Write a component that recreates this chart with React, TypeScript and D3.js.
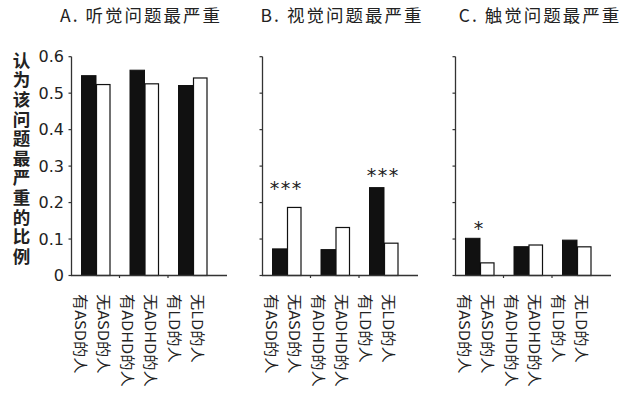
import React from "react";
import * as d3 from "d3";

const panelTitles = ["A. 听觉问题最严重", "B. 视觉问题最严重", "C. 触觉问题最严重"];
const groups = ["ASD", "ADHD", "LD"];
const series = ["有", "无"];
const xLabels = ["有ASD的人", "无ASD的人", "有ADHD的人", "无ADHD的人", "有LD的人", "无LD的人"];
const yTicks = [0, 0.1, 0.2, 0.3, 0.4, 0.5, 0.6];
const yTickLabels = ["0", "0.1", "0.2", "0.3", "0.4", "0.5", "0.6"];
const yTitle = "认为该问题最严重的比例";

// values per panel: [有 (black), 无 (white)] for ASD, ADHD, LD
const hearingHas = [0.548, 0.563, 0.521];
const hearingNot = [0.525, 0.527, 0.543];
const visionHas = [0.073, 0.071, 0.241];
const visionNot = [0.188, 0.133, 0.09];
const touchHas = [0.102, 0.079, 0.097];
const touchNot = [0.036, 0.085, 0.08];

const panelHas = [hearingHas, visionHas, touchHas];
const panelNot = [hearingNot, visionNot, touchNot];

// significance marks: panel, group, label, height (data units)
const sigPanel = [1, 1, 2];
const sigGroup = [0, 2, 0];
const sigText = ["***", "***", "*"];
const sigLevel = [0.248, 0.284, 0.138];

const W = 631;
const H = 393;
const panelLeft = [71, 262, 455];
const titleCenter = [141, 342, 540];
const axisLen = 156;
const groupSpan = 145.5;
const FONT = "'Noto Sans CJK SC', 'DejaVu Sans', sans-serif";

export default function App() {
  const y = d3.scaleLinear().domain([0, 0.6]).range([275.5, 56.7]);
  const gx = d3.scaleBand<string>().domain(groups).range([0, groupSpan]).paddingInner(0);
  const inner = d3
    .scaleBand<string>()
    .domain(series)
    .range([10.5, 39.5])
    .paddingInner(0);
  const lx = d3.scaleBand<string>().domain(xLabels).range([-1.5, 139.5]);

  return (
    <svg
      width={W}
      height={H}
      style={{ position: "absolute", left: 0, top: 0, background: "#fff" }}
      fontFamily={FONT}
    >
      {/* y axis title */}
      <text
        x={21.5}
        y={51.5}
        style={{ writingMode: "vertical-rl" } as any}
        fontSize={17.5}
        letterSpacing={2.1}
        fontWeight="bold"
        fill="#222"
      >
        {yTitle}
      </text>
      {/* y tick labels (panel A only) */}
      {yTicks.map((t, i) => (
        <text
          key={i}
          x={64}
          y={y(t)}
          textAnchor="end"
          dominantBaseline="central"
          fontSize={16}
          fontFamily="'DejaVu Sans', sans-serif"
          fill="#222"
        >
          {yTickLabels[i]}
        </text>
      ))}
      {panelTitles.map((title, p) => {
        const x0 = panelLeft[p];
        const has = panelHas[p];
        const not = panelNot[p];
        return (
          <g key={p}>
            <text
              x={titleCenter[p]}
              y={22}
              textAnchor="middle"
              fontSize={17.5}
              letterSpacing={2}
              fill="#222"
            >
              {title}
            </text>
            <g transform={`translate(${x0},0)`}>
              {/* bars */}
              {groups.map((g, gi) => (
                <g key={g} transform={`translate(${gx(g)},0)`}>
                  <rect
                    x={inner("有")}
                    y={y(has[gi])}
                    width={inner.bandwidth()}
                    height={y(0) - y(has[gi])}
                    fill="#111"
                    stroke="#111"
                    strokeWidth={1}
                  />
                  <rect
                    x={(inner("无") as number) + 0.5}
                    y={y(not[gi]) + 0.5}
                    width={inner.bandwidth() - 1}
                    height={y(0) - y(not[gi]) - 0.5}
                    fill="#fff"
                    stroke="#111"
                    strokeWidth={1.2}
                  />
                </g>
              ))}
              {/* y axis */}
              <line x1={0.5} x2={0.5} y1={y(0.6)} y2={y(0)} stroke="#333" strokeWidth={1.3} />
              {yTicks.map((t, i) => (
                <line key={i} x1={-2.5} x2={0.5} y1={y(t)} y2={y(t)} stroke="#333" strokeWidth={1.2} />
              ))}
              {/* x axis */}
              <line x1={0} x2={axisLen} y1={y(0)} y2={y(0)} stroke="#333" strokeWidth={1.3} />
              {groups.slice(1).map((g) => (
                <line
                  key={g}
                  x1={gx(g)}
                  x2={gx(g)}
                  y1={y(0)}
                  y2={y(0) + 2.5}
                  stroke="#333"
                  strokeWidth={1.2}
                />
              ))}
              {/* x labels */}
              {xLabels.map((lab) => (
                <text
                  key={lab}
                  x={0}
                  y={0}
                  transform={`translate(${(lx(lab) as number) + lx.bandwidth() / 2}, 294) rotate(90) scale(1.12, 1)`}
                  dominantBaseline="central"
                  fontSize={14.5}
                  fill="#222"
                >
                  {lab}
                </text>
              ))}
            </g>
          </g>
        );
      })}
      {/* significance marks */}
      {sigText.map((s, i) => {
        const p = sigPanel[i];
        const cx = panelLeft[p] + (gx(groups[sigGroup[i]]) as number) + gx.bandwidth() / 2;
        return (
          <text
            key={i}
            x={cx}
            y={y(sigLevel[i]) + 10}
            textAnchor="middle"
            fontSize={19}
            letterSpacing={1.5}
            fontFamily="'DejaVu Sans', sans-serif"
            fill="#222"
          >
            {s}
          </text>
        );
      })}
    </svg>
  );
}
